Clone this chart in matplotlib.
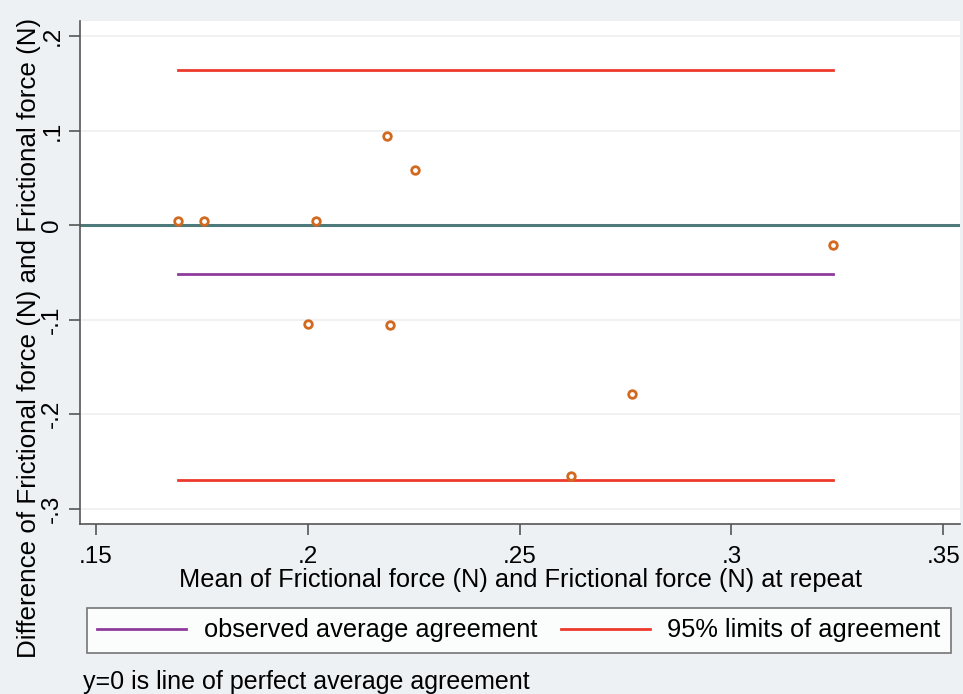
import matplotlib.pyplot as plt
import numpy as np

#%% data

mean_force = [0.1694, 0.1755, 0.2020, 0.2187, 0.2253, 0.2001, 0.2194, 0.2622, 0.2766, 0.3240]
diff_force = [0.0042, 0.0040, 0.0050, 0.0940, 0.0580, -0.1045, -0.1056, -0.2650, -0.1785, -0.0210]

mean_diff = -0.0517
upper_loa = 0.1647
lower_loa = -0.2690

xticks = [0.15, 0.2, 0.25, 0.3, 0.35]
xtick_labels = ['.15', '.2', '.25', '.3', '.35']
yticks = [-0.3, -0.2, -0.1, 0.0, 0.1, 0.2]
ytick_labels = ['-.3', '-.2', '-.1', '0', '.1', '.2']

#%% plot

plt.rcParams['font.family'] = ['Liberation Sans', 'DejaVu Sans']
bg = '#eef1f4'
fs = 18.3

fig = plt.figure(figsize=(9.63, 6.94), dpi=100, facecolor=bg)
ax = fig.add_axes([0.0831, 0.245, 0.914, 0.7247])
ax.set_facecolor('white')

# grid and zero line
for yt in yticks:
    ax.axhline(yt, color='#eceff1', lw=1.2, zorder=0)
ax.axhline(0, color='#4f7a7c', lw=2.2, zorder=1)

x0, x1 = min(mean_force), max(mean_force)
ax.plot([x0, x1], [mean_diff, mean_diff], color='#8e3b9c', lw=2, zorder=2,
        label='observed average agreement')
ax.plot([x0, x1], [upper_loa, upper_loa], color='#ee3a2c', lw=2, zorder=2,
        label='95% limits of agreement')
ax.plot([x0, x1], [lower_loa, lower_loa], color='#ee3a2c', lw=2, zorder=2)

ax.scatter(mean_force, diff_force, s=30, facecolors='white', edgecolors='#d2691e',
           linewidths=2, zorder=3)

ax.set_xlim(0.1462, 0.354)
ax.set_ylim(-0.316, 0.216)

ax.set_xticks(xticks)
ax.set_xticklabels(xtick_labels, fontsize=17.5)
ax.set_yticks(yticks)
ax.set_yticklabels(ytick_labels, fontsize=17.5, rotation=90, va='center')
ax.tick_params(axis='x', direction='out', length=8, width=1.2, color='#555555', pad=8)
ax.tick_params(axis='y', direction='out', length=8, width=1.2, color='#555555', pad=4)

for side in ['top', 'right']:
    ax.spines[side].set_visible(False)
for side in ['left', 'bottom']:
    ax.spines[side].set_color('#555555')
    ax.spines[side].set_linewidth(1.2)

ax.set_xlabel('Mean of Frictional force (N) and Frictional force (N) at repeat',
              fontsize=fs, labelpad=0)
fig.text(0.030, 0.513, 'Difference of Frictional force (N) and Frictional force (N)',
         rotation=90, ha='center', va='center', fontsize=18.7)

leg = fig.legend(loc='center', bbox_to_anchor=(0.539, 0.0915), ncol=2, fontsize=fs,
                 frameon=True, fancybox=False, edgecolor='#555555', handlelength=3.5,
                 columnspacing=0.9, borderpad=0.4, handletextpad=0.7)
leg.get_frame().set_linewidth(1.2)

fig.text(0.086, 0.018, 'y=0 is line of perfect average agreement', fontsize=18,
         ha='left', va='center')

fig.savefig('out.png', dpi=100, facecolor=bg)
